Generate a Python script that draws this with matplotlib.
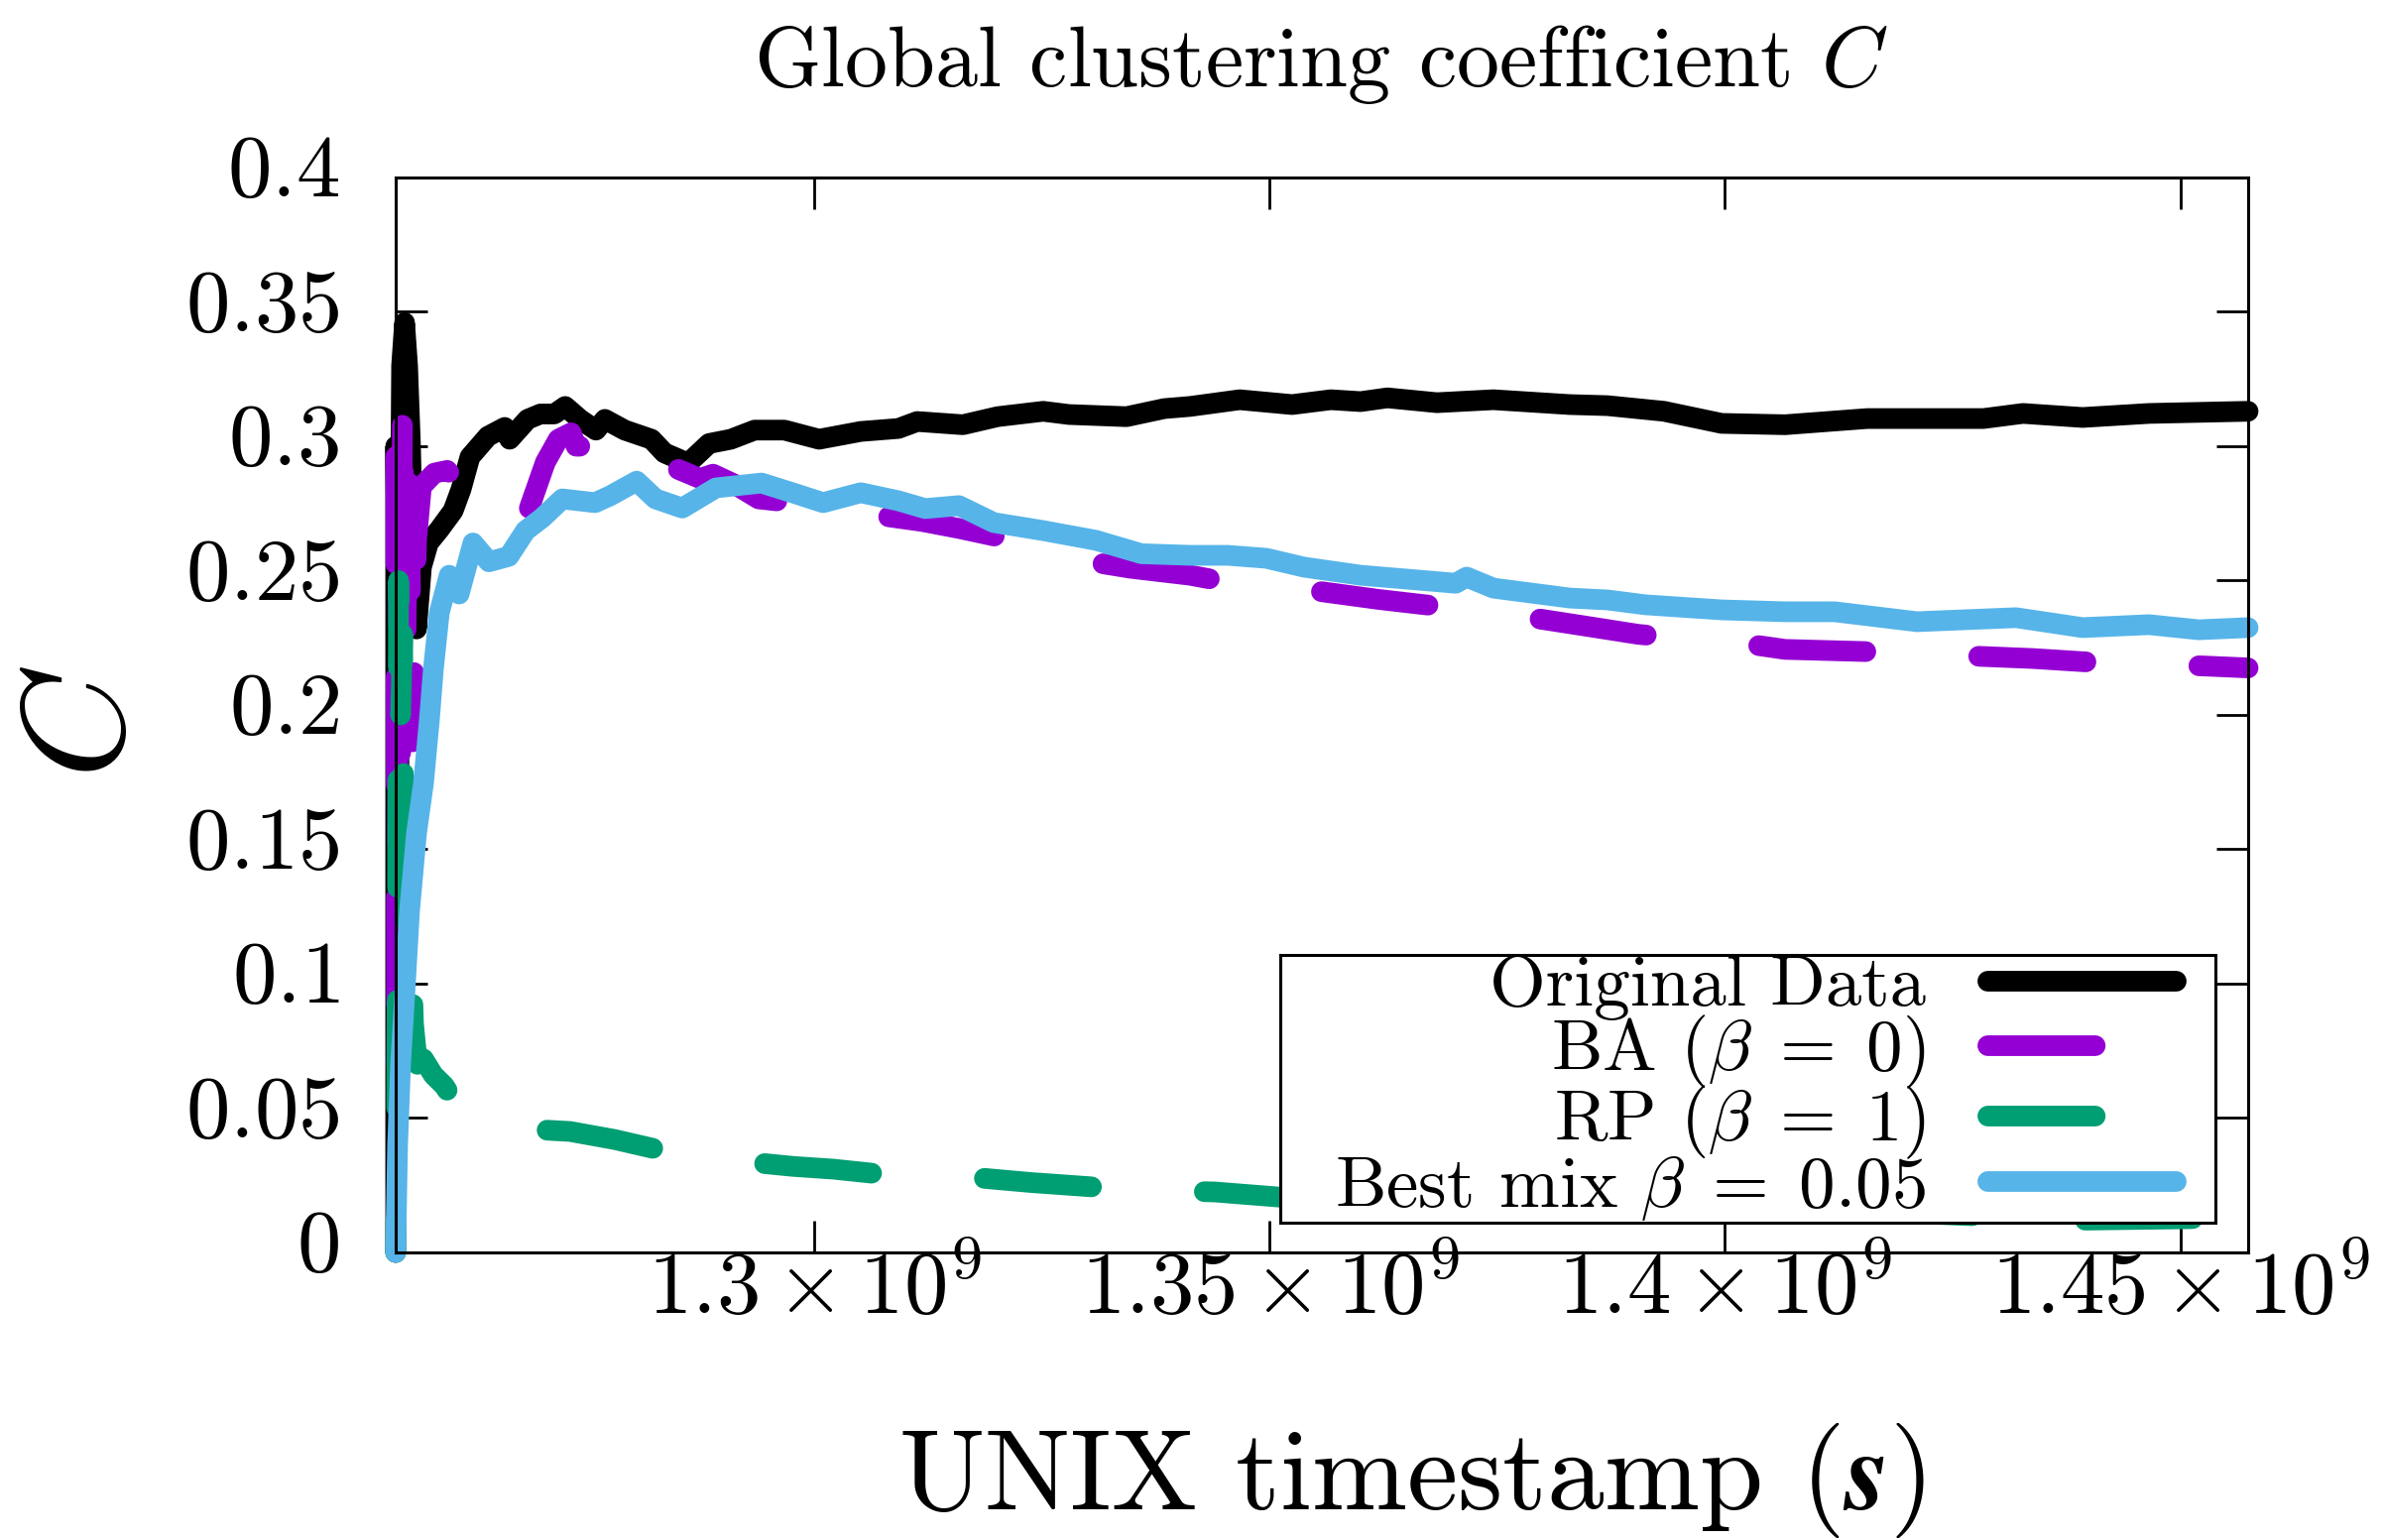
import numpy as np
import matplotlib
matplotlib.use("Agg")
import matplotlib.pyplot as plt
from matplotlib.path import Path
from matplotlib.transforms import ScaledTranslation

plt.rcParams.update({
    "font.family": "serif",
    "font.serif": ["cmr10"],
    "mathtext.fontset": "cm",
    "axes.formatter.use_mathtext": True,
    "axes.unicode_minus": False,
    "lines.scale_dashes": False,
})

# ---- data: timestamps in units of 1e9 s, clustering coefficient C ----
t_orig = [1.25398, 1.25398, 1.25430, 1.25463, 1.25496, 1.25529, 1.25561, 1.25594,
          1.25627, 1.25681, 1.25757, 1.25877, 1.26029, 1.26116, 1.26214, 1.26411,
          1.26596, 1.26650, 1.26846, 1.26988, 1.27140, 1.27260, 1.27424, 1.27598,
          1.27696, 1.27914, 1.28208, 1.28350, 1.28611, 1.28840, 1.29080, 1.29341,
          1.29668, 1.30049, 1.30507, 1.30920, 1.31127, 1.31629, 1.32010, 1.32511,
          1.32794, 1.33426, 1.33840, 1.34123, 1.34668, 1.35245, 1.35670, 1.35997,
          1.36291, 1.36836, 1.37456, 1.38295, 1.38709, 1.39330, 1.39962, 1.40659,
          1.41563, 1.42838, 1.43273, 1.43927, 1.44657, 1.45746]
c_orig = [0.000, 0.300, 0.180, 0.330, 0.346, 0.330, 0.300, 0.250,
          0.232, 0.255, 0.264, 0.269, 0.276, 0.284, 0.296, 0.3037,
          0.307, 0.3026, 0.310, 0.312, 0.312, 0.3148, 0.310, 0.306,
          0.310, 0.306, 0.3026, 0.2975, 0.2937, 0.301, 0.3026, 0.306,
          0.306, 0.3026, 0.3055, 0.3066, 0.3092, 0.308, 0.311, 0.313,
          0.3118, 0.311, 0.314, 0.3148, 0.3173, 0.3155, 0.3173, 0.3166,
          0.318, 0.3162, 0.3173, 0.3155, 0.3151, 0.313, 0.3085, 0.308,
          0.3103, 0.3103, 0.3122, 0.3107, 0.3122, 0.313]

t_ba = [1.25398, 1.25409, 1.25430, 1.25452, 1.25474, 1.25507, 1.25539, 1.25583,
        1.25627, 1.25681, 1.25823, 1.25964, 1.26116, 1.26280, 1.26411, 1.26607,
        1.26825, 1.27042, 1.27184, 1.27326, 1.27380, 1.27587, 1.27772, 1.27914,
        1.28153, 1.28459, 1.28742, 1.28884, 1.29112, 1.29385, 1.29766, 1.30005,
        1.30419, 1.30757, 1.31182, 1.31585, 1.32053, 1.32511, 1.33034, 1.33469,
        1.34123, 1.34537, 1.35103, 1.35583, 1.36193, 1.36705, 1.37282, 1.37870,
        1.38480, 1.39047, 1.39679, 1.40289, 1.40659, 1.41531, 1.42184, 1.42805,
        1.43382, 1.44036, 1.44690, 1.45344, 1.45746]
c_ba = [0.330, 0.060, 0.250, 0.185, 0.320, 0.220, 0.300, 0.190,
        0.265, 0.285, 0.290, 0.291, 0.285, 0.285, 0.276, 0.272,
        0.273, 0.294, 0.3026, 0.305, 0.300, 0.300, 0.3026, 0.305,
        0.299, 0.292, 0.288, 0.2896, 0.286, 0.2804, 0.279, 0.2779,
        0.276, 0.274, 0.272, 0.2694, 0.266, 0.264, 0.257, 0.2546,
        0.252, 0.2494, 0.248, 0.2458, 0.243, 0.241, 0.239, 0.2362,
        0.233, 0.230, 0.228, 0.2262, 0.2244, 0.2236, 0.223, 0.2218,
        0.221, 0.2196, 0.219, 0.2181, 0.2175]

t_rp = [1.25398, 1.25409, 1.25430, 1.25452, 1.25474, 1.25496, 1.25529, 1.25561,
        1.25594, 1.25637, 1.25703, 1.25812, 1.25932, 1.26084, 1.26389, 1.26792,
        1.27315, 1.27805, 1.28317, 1.28785, 1.29286, 1.29766, 1.30202, 1.30625,
        1.31182, 1.31716, 1.32380, 1.33208, 1.33796, 1.34395, 1.35212, 1.36302,
        1.37391, 1.38480, 1.39570, 1.40659, 1.41748, 1.42838, 1.43927, 1.45016,
        1.45746]
c_rp = [0.000, 0.050, 0.250, 0.200, 0.230, 0.110, 0.190, 0.120,
        0.085, 0.070, 0.072, 0.066, 0.062, 0.054, 0.050, 0.046,
        0.045, 0.042, 0.038, 0.036, 0.0336, 0.032, 0.031, 0.0295,
        0.029, 0.028, 0.026, 0.024, 0.023, 0.0225, 0.0203, 0.019,
        0.018, 0.017, 0.016, 0.0155, 0.015, 0.0135, 0.012, 0.0125,
        0.013]

t_mix = [1.25398, 1.25419, 1.25452, 1.25496, 1.25550, 1.25627, 1.25703, 1.25768,
         1.25812, 1.25877, 1.25986, 1.26095, 1.26247, 1.26422, 1.26640, 1.26825,
         1.27010, 1.27228, 1.27587, 1.27751, 1.28045, 1.28252, 1.28546, 1.28916,
         1.29417, 1.29755, 1.30093, 1.30507, 1.30920, 1.31214, 1.31585, 1.31966,
         1.32511, 1.33088, 1.33589, 1.34123, 1.34537, 1.34962, 1.35376, 1.35997,
         1.36629, 1.37042, 1.37162, 1.37456, 1.38295, 1.38709, 1.39123, 1.39962,
         1.40659, 1.41204, 1.42108, 1.43197, 1.43927, 1.44657, 1.45202, 1.45746]
c_mix = [0.000, 0.040, 0.070, 0.095, 0.127, 0.156, 0.1745, 0.198,
         0.217, 0.238, 0.252, 0.245, 0.264, 0.257, 0.259, 0.2686,
         0.2734, 0.2804, 0.279, 0.2815, 0.287, 0.2804, 0.277, 0.2845,
         0.2863, 0.2827, 0.279, 0.2827, 0.2797, 0.2768, 0.2779, 0.2716,
         0.2686, 0.265, 0.260, 0.2594, 0.2594, 0.2583, 0.255, 0.252,
         0.2502, 0.249, 0.2513, 0.2472, 0.2435, 0.2428, 0.241, 0.2391,
         0.2384, 0.2384, 0.2347, 0.2362, 0.2325, 0.2336, 0.2317, 0.2325]

labels = ["Original Data", r"BA $(\beta\;=\;0)$", r"RP $(\beta\;=\;1)$",
          r"Best mix $\beta\;=\;0.05$"]
colors = ["#000000", "#9400d3", "#009e73", "#56b4e9"]
# dash phase (pt) for the dashed model curves, None for solid
dash_offsets = [None, 94, 55, None]

x_ticks = [1.30e9, 1.35e9, 1.40e9, 1.45e9]
x_ticklabels = [r"$1.3\times10^{9}$", r"$1.35\times10^{9}$",
                r"$1.4\times10^{9}$", r"$1.45\times10^{9}$"]
y_ticks = [0, 0.05, 0.1, 0.15, 0.2, 0.25, 0.3, 0.35, 0.4]
y_ticklabels = ["$0$", "$0.05$", "$0.1$", "$0.15$", "$0.2$", "$0.25$",
                "$0.3$", "$0.35$", "$0.4$"]


def key_box(x0, y0, width, height, mutation_size):
    # key frame: padded sideways only, flush with the entries top and bottom
    left = 0.75 * mutation_size
    right = 0.55 * mutation_size
    return Path([(x0 - left, y0), (x0 + width + right, y0),
                 (x0 + width + right, y0 + height), (x0 - left, y0 + height),
                 (x0 - left, y0)], closed=True)


# ---- figure ----
fig = plt.figure(figsize=(24.03, 15.53), dpi=100)
ax = fig.add_axes([0.16604, 0.18674, 0.94340 - 0.16604, 0.88474 - 0.18674])

series = [(t_orig, c_orig), (t_ba, c_ba), (t_rp, c_rp), (t_mix, c_mix)]
handles = []
for (t, c), lab, col, off in zip(series, labels, colors, dash_offsets):
    ln, = ax.plot(np.array(t) * 1e9, c, color=col, lw=15, label=lab,
                  solid_capstyle="round", dash_capstyle="round",
                  solid_joinstyle="round", dash_joinstyle="round",
                  clip_on=False)
    if off is not None:
        ln.set_linestyle((off, (78, 82)))
    handles.append(ln)

ax.set_xlim(t_orig[0] * 1e9, t_orig[-1] * 1e9)
ax.set_ylim(0, 0.4)
ax.set_xticks(x_ticks, x_ticklabels)
ax.set_yticks(y_ticks, y_ticklabels)

for s in ax.spines.values():
    s.set_linewidth(2.2)
ax.tick_params(direction="in", length=23, width=2, top=True, right=True,
               labelsize=64)
ax.tick_params(axis="y", pad=41)
ax.tick_params(axis="x", pad=-2)

# y tick labels sit slightly above their ticks
shift = ScaledTranslation(0, 12 / 100, fig.dpi_scale_trans)
for lbl in ax.get_yticklabels():
    lbl.set_transform(lbl.get_transform() + shift)

leg = ax.legend(handles=handles, loc="lower right",
                bbox_to_anchor=(0.9609, 0.0277), borderaxespad=0,
                markerfirst=False, fontsize=52.5, handlelength=2.6,
                handletextpad=0.86, borderpad=0.0, labelspacing=-0.1,
                fancybox=False, framealpha=1, edgecolor="black")
leg.get_frame().set_linewidth(2.2)
leg.legendPatch.set_boxstyle(key_box)
# key samples start with a full dash
for h in leg.get_lines():
    if h.get_linestyle() != "-":
        h.set_linestyle((0, (78, 82)))

fig.text(1332 / 2403, 1 - 87 / 1553, r"Global clustering coefficient $C$",
         ha="center", va="baseline", fontsize=62)
fig.text(1423 / 2403, 1 - 1522 / 1553, r"UNIX timestamp $(\mathbfit{s})$",
         ha="center", va="baseline", fontsize=83)
fig.text(88 / 2403, 1 - 728 / 1553, r"$C$", rotation=90,
         ha="center", va="center", fontsize=106)

fig.savefig("out.png", dpi=100)
